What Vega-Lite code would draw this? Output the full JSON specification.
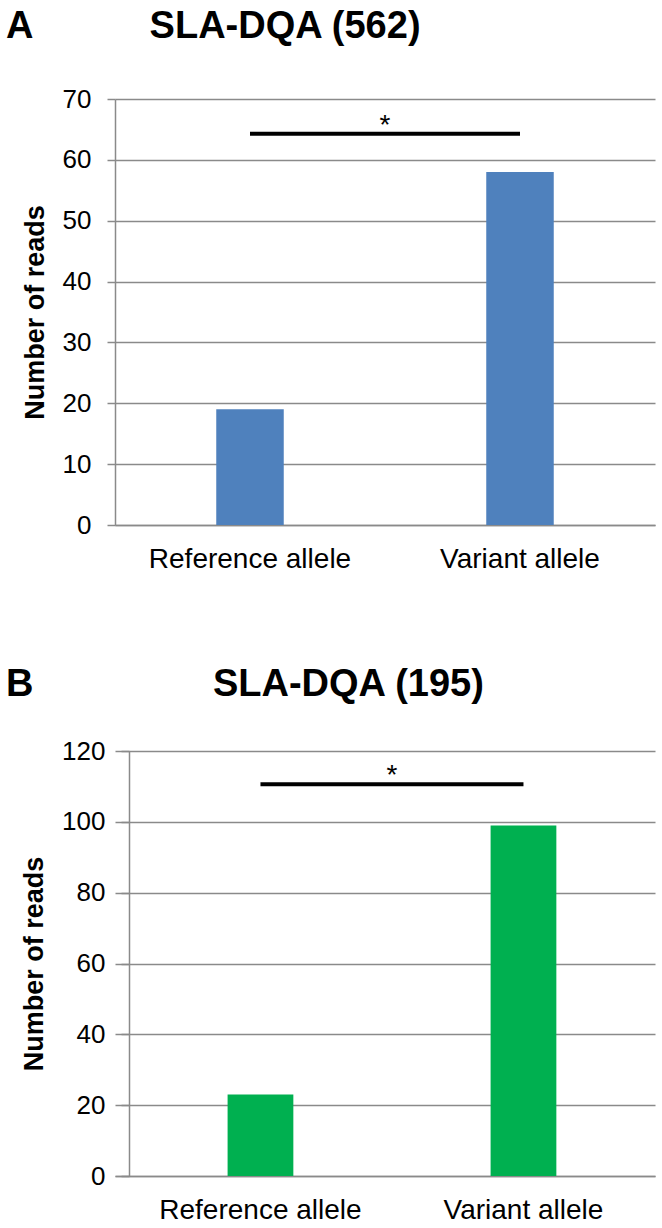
{
  "$schema": "https://vega.github.io/schema/vega-lite/v6.json",
  "padding": {"top": 8, "left": 6, "right": 7, "bottom": 0},
  "spacing": 93,
  "config": {
    "view": {"stroke": null},
    "font": "Liberation Sans",
    "title": {"font": "Liberation Sans", "fontWeight": "bold", "fontSize": 38, "color": "#000", "anchor": "start", "frame": "group"},
    "axisY": {
      "grid": true, "gridColor": "#8a8a8a", "gridWidth": 1.5,
      "domainColor": "#8a8a8a", "domainWidth": 1.5,
      "tickColor": "#8a8a8a", "tickWidth": 1.5, "tickSize": 8,
      "labelFont": "Liberation Sans", "labelFontSize": 26, "labelColor": "#000", "labelPadding": 16,
      "titleFont": "Liberation Sans", "titleFontSize": 27, "titleFontWeight": "bold", "titleColor": "#000", "titlePadding": 13
    },
    "axisX": {
      "domainColor": "#8a8a8a", "domainWidth": 1.5, "ticks": false, "grid": false,
      "labelFont": "Liberation Sans", "labelFontSize": 28, "labelColor": "#000", "labelPadding": 20, "labelAngle": 0, "labelLimit": 400
    }
  },
  "vconcat": [
    {
      "width": 540,
      "height": 426,
      "title": {"text": "A\u00a0\u00a0\u00a0\u00a0\u00a0\u00a0\u00a0\u00a0\u00a0\u00a0\u00a0SLA-DQA (562)", "dx": -109, "offset": 40},
      "layer": [
        {
          "data": {"values": [
            {"allele": "Reference allele", "reads": 19},
            {"allele": "Variant allele", "reads": 58}
          ]},
          "mark": {"type": "bar", "color": "#4F81BD"},
          "encoding": {
            "x": {"field": "allele", "type": "nominal", "scale": {"paddingInner": 0.75, "paddingOuter": 0.375}, "axis": {"title": null}},
            "y": {"field": "reads", "type": "quantitative", "scale": {"domain": [0, 70], "nice": false}, "axis": {"title": "Number of reads", "values": [0, 10, 20, 30, 40, 50, 60, 70]}}
          }
        },
        {
          "data": {"values": [{"from": "Reference allele", "to": "Variant allele", "y": 64.3}]},
          "mark": {"type": "rule", "color": "#000", "strokeWidth": 4},
          "encoding": {
            "x": {"field": "from", "type": "nominal", "scale": {"domain": ["Reference allele", "Variant allele"], "paddingInner": 0.75, "paddingOuter": 0.375}, "axis": null},
            "x2": {"field": "to"},
            "y": {"field": "y", "type": "quantitative"}
          }
        },
        {
          "data": {"values": [{"mid": 1, "y": 64.3, "label": "*"}]},
          "mark": {"type": "text", "fontSize": 28, "baseline": "alphabetic", "color": "#000", "font": "Liberation Sans"},
          "encoding": {
            "x": {"field": "mid", "type": "quantitative", "scale": {"domain": [0, 2], "nice": false, "zero": false}, "axis": null},
            "y": {"field": "y", "type": "quantitative"},
            "text": {"field": "label"}
          }
        }
      ],
      "resolve": {"scale": {"x": "independent"}}
    },
    {
      "width": 540,
      "height": 425,
      "title": {"text": "B\u00a0\u00a0\u00a0\u00a0\u00a0\u00a0\u00a0\u00a0\u00a0\u00a0\u00a0\u00a0\u00a0\u00a0\u00a0\u00a0\u00a0SLA-DQA (195)", "dx": -109, "offset": 34},
      "layer": [
        {
          "data": {"values": [
            {"allele": "Reference allele", "reads": 23},
            {"allele": "Variant allele", "reads": 99}
          ]},
          "mark": {"type": "bar", "color": "#00B050"},
          "encoding": {
            "x": {"field": "allele", "type": "nominal", "scale": {"paddingInner": 0.75, "paddingOuter": 0.4016, "align": 0.533}, "axis": {"title": null}},
            "y": {"field": "reads", "type": "quantitative", "scale": {"domain": [0, 120], "nice": false}, "axis": {"title": "Number of reads", "values": [0, 20, 40, 60, 80, 100, 120], "offset": -14}}
          }
        },
        {
          "data": {"values": [{"from": "Reference allele", "to": "Variant allele", "y": 110.6}]},
          "mark": {"type": "rule", "color": "#000", "strokeWidth": 4},
          "encoding": {
            "x": {"field": "from", "type": "nominal", "scale": {"domain": ["Reference allele", "Variant allele"], "paddingInner": 0.75, "paddingOuter": 0.4016, "align": 0.533}, "axis": null},
            "x2": {"field": "to"},
            "y": {"field": "y", "type": "quantitative"}
          }
        },
        {
          "data": {"values": [{"mid": 1, "y": 110.6, "label": "*"}]},
          "mark": {"type": "text", "fontSize": 28, "baseline": "alphabetic", "color": "#000", "font": "Liberation Sans"},
          "encoding": {
            "x": {"field": "mid", "type": "quantitative", "scale": {"domain": [-0.053, 2], "nice": false, "zero": false}, "axis": null},
            "y": {"field": "y", "type": "quantitative"},
            "text": {"field": "label"}
          }
        }
      ],
      "resolve": {"scale": {"x": "independent"}}
    }
  ]
}
